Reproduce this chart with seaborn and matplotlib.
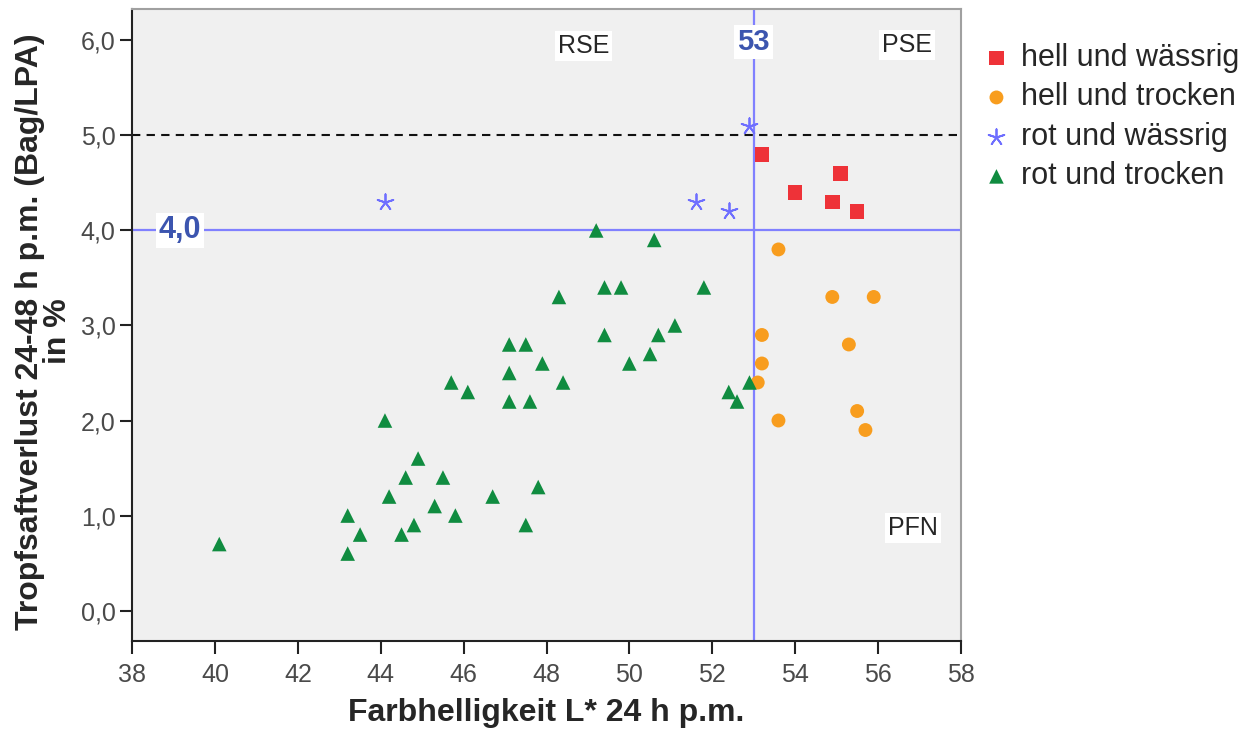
import matplotlib
matplotlib.use("Agg")
import matplotlib.pyplot as plt
import seaborn as sns
import pandas as pd

# ---- data ----
hw_x = [53.2, 54.0, 55.1, 54.9, 55.5]
hw_y = [4.8, 4.4, 4.6, 4.3, 4.2]
ht_x = [53.6, 54.9, 55.9, 53.2, 55.3, 53.2, 53.1, 53.6, 55.5, 55.7]
ht_y = [3.8, 3.3, 3.3, 2.9, 2.8, 2.6, 2.4, 2.0, 2.1, 1.9]
rw_x = [44.1, 51.6, 52.4, 52.9]
rw_y = [4.3, 4.3, 4.2, 5.1]
rt_x = [40.1, 43.2, 43.5, 43.2, 44.1, 44.2, 44.6, 44.9, 44.5, 44.8, 45.3, 45.5,
        45.8, 45.7, 46.1, 46.7, 47.8, 47.5, 47.1, 47.5, 47.9, 47.1, 48.4, 47.1,
        47.6, 48.3, 49.2, 50.6, 49.4, 49.8, 51.8, 49.4, 50.7, 51.1, 50.5, 50.0,
        52.4, 52.6, 52.9]
rt_y = [0.7, 1.0, 0.8, 0.6, 2.0, 1.2, 1.4, 1.6, 0.8, 0.9, 1.1, 1.4,
        1.0, 2.4, 2.3, 1.2, 1.3, 0.9, 2.8, 2.8, 2.6, 2.5, 2.4, 2.2,
        2.2, 3.3, 4.0, 3.9, 3.4, 3.4, 3.4, 2.9, 2.9, 3.0, 2.7, 2.6,
        2.3, 2.2, 2.4]

groups = ["hell und wässrig", "hell und trocken", "rot und wässrig", "rot und trocken"]
x_ticks = [38, 40, 42, 44, 46, 48, 50, 52, 54, 56, 58]
y_ticks = [0, 1, 2, 3, 4, 5, 6]
y_tick_labels = ["0,0", "1,0", "2,0", "3,0", "4,0", "5,0", "6,0"]
x_ref = 53
y_ref = 4.0
y_dashed = 5.0
region_labels = ["RSE", "PSE", "PFN"]

df = pd.concat([
    pd.DataFrame({"L": hw_x, "T": hw_y, "g": groups[0]}),
    pd.DataFrame({"L": ht_x, "T": ht_y, "g": groups[1]}),
    pd.DataFrame({"L": rw_x, "T": rw_y, "g": groups[2]}),
    pd.DataFrame({"L": rt_x, "T": rt_y, "g": groups[3]}),
])

sns.set_style("ticks")
plt.rcParams["font.family"] = ["Liberation Sans", "DejaVu Sans"]

fig = plt.figure(figsize=(12.5, 7.35), dpi=100)
ax = fig.add_axes([132.3 / 1250, 1 - 641 / 735, (960.7 - 132.3) / 1250, (641 - 9) / 735])
ax.set_facecolor("#f0f0f0")

styles = {
    groups[0]: dict(marker="s", color="#ee3238", s=110),
    groups[1]: dict(marker="o", color="#f89d1e", s=100),
    groups[2]: dict(marker=(5, 2, 0), color="#6e6eff", s=140),
    groups[3]: dict(marker="^", color="#108c40", s=110),
}

# reference lines
ax.axhline(y_ref, color="#8080ff", lw=1.6, zorder=1)
ax.axvline(x_ref, color="#8080ff", lw=1.6, zorder=1)
ax.axhline(y_dashed, color="#111111", lw=1.5, dashes=(4, 3), zorder=1)

for g in groups:
    st = styles[g]
    sub = df[df["g"] == g]
    if g == groups[2]:
        sns.scatterplot(data=sub, x="L", y="T", ax=ax, marker=st["marker"],
                        color=st["color"], s=st["s"], linewidth=1.3, label=g, zorder=3)
    else:
        sns.scatterplot(data=sub, x="L", y="T", ax=ax, marker=st["marker"],
                        color=st["color"], s=st["s"], edgecolor="none", linewidth=0,
                        label=g, zorder=3)

ax.set_xlim(38, 58)
ax.set_ylim(-0.32, 6.33)
ax.set_xticks(x_ticks)
ax.set_xticklabels([str(v) for v in x_ticks])
ax.set_yticks(y_ticks)
ax.set_yticklabels(y_tick_labels)
ax.tick_params(axis="both", direction="out", length=9, width=1.5, color="#222222",
               labelsize=18, labelcolor="#4a4a4a")
ax.tick_params(axis="x", pad=7)
ax.tick_params(axis="y", pad=3)

for side in ["left", "bottom"]:
    ax.spines[side].set_color("#222222")
    ax.spines[side].set_linewidth(1.5)
for side in ["top", "right"]:
    ax.spines[side].set_color("#a0a0a0")
    ax.spines[side].set_linewidth(1.5)
    ax.spines[side].set_visible(True)

ax.set_xlabel("Farbhelligkeit L* 24 h p.m.", fontsize=23, fontweight="bold", labelpad=8)
ax.set_ylabel("")
ax.text(-0.107, 0.49, "Tropfsaftverlust 24-48 h p.m. (Bag/LPA)\nin %", transform=ax.transAxes,
        rotation=90, ha="center", va="center", multialignment="center",
        fontsize=23, fontweight="bold", linespacing=0.9)

box = dict(facecolor="white", edgecolor="none", pad=2)
ax.text(48.89, 5.94, region_labels[0], fontsize=18, ha="center", va="center", bbox=box, zorder=5)
ax.text(56.7, 5.95, region_labels[1], fontsize=18, ha="center", va="center", bbox=box, zorder=5)
ax.text(56.85, 0.87, region_labels[2], fontsize=18, ha="center", va="center", bbox=box, zorder=5)
ax.text(x_ref, 5.98, "53", fontsize=21, fontweight="bold", color="#3c55af",
        ha="center", va="center", bbox=box, zorder=5)
ax.text(39.15, y_ref, "4,0", fontsize=22, fontweight="bold", color="#3c55af",
        ha="center", va="center", bbox=box, zorder=5)

leg = ax.legend(loc="upper left", bbox_to_anchor=(985 / 1250, 1 - 43 / 735),
                bbox_transform=fig.transFigure, frameon=False, fontsize=22,
                borderpad=0, borderaxespad=0, handlelength=0.75, handletextpad=0.42,
                labelspacing=0.31, markerscale=1.0)

fig.savefig("out.png", dpi=100)
